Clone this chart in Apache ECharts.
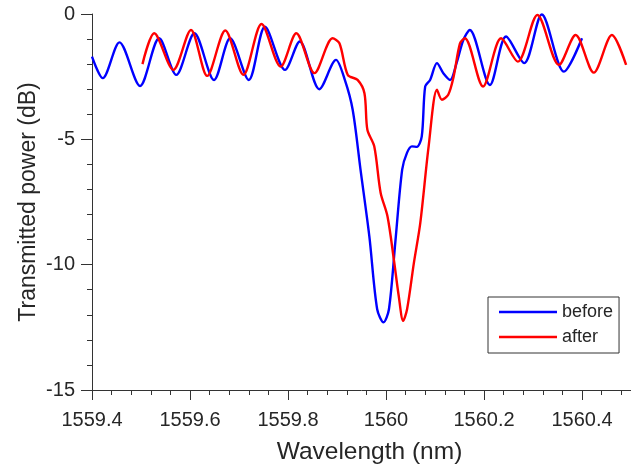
<!DOCTYPE html>
<html>
<head>
<meta charset="utf-8">
<script src="https://cdn.jsdelivr.net/npm/echarts@6/dist/echarts.min.js"></script>
<style>
html,body{margin:0;padding:0;background:#fff;}
#chart{width:631px;height:470px;}
</style>
</head>
<body>
<div id="chart"></div>
<script>
// Wavelength (nm) and transmitted power (dB)
var beforeX = [1559.400,1559.422,1559.456,1559.498,1559.537,1559.572,1559.609,1559.649,1559.682,1559.720,1559.753,1559.794,1559.824,1559.864,1559.898,1559.916,1559.932,1559.948,1559.966,1559.982,1559.995,1560.006,1560.019,1560.033,1560.043,1560.053,1560.063,1560.073,1560.080,1560.090,1560.104,1560.117,1560.131,1560.144,1560.158,1560.171,1560.212,1560.245,1560.282,1560.318,1560.363,1560.400];
var beforeY = [-1.70,-2.56,-1.13,-2.87,-0.97,-2.43,-0.77,-2.63,-0.97,-2.63,-0.51,-2.23,-1.10,-3.00,-1.83,-2.63,-3.82,-6.21,-8.87,-11.78,-12.30,-11.78,-9.11,-6.21,-5.53,-5.28,-5.30,-4.88,-2.89,-2.63,-1.96,-2.36,-2.63,-1.96,-1.03,-0.64,-2.83,-0.90,-1.96,-0.02,-2.30,-0.97];
var afterX = [1559.503,1559.527,1559.566,1559.602,1559.635,1559.672,1559.709,1559.746,1559.785,1559.817,1559.854,1559.891,1559.905,1559.922,1559.942,1559.956,1559.962,1559.976,1559.989,1560.003,1560.016,1560.026,1560.035,1560.043,1560.057,1560.070,1560.087,1560.104,1560.114,1560.127,1560.138,1560.151,1560.161,1560.198,1560.235,1560.269,1560.309,1560.353,1560.387,1560.424,1560.461,1560.490];
var afterY = [-2.00,-0.77,-2.23,-0.64,-2.47,-0.66,-2.43,-0.40,-2.10,-0.77,-2.36,-0.97,-1.17,-2.43,-2.63,-3.16,-4.62,-5.28,-7.13,-8.07,-9.79,-11.25,-12.24,-11.78,-9.92,-8.33,-5.28,-3.02,-3.42,-3.22,-2.50,-1.17,-0.97,-2.89,-0.97,-1.90,-0.04,-2.03,-0.84,-2.34,-0.84,-2.03];
var seriesNames = ['before', 'after'];
var seriesColors = ['#0000ff', '#ff0000'];
var xTitle = 'Wavelength (nm)';
var yTitle = 'Transmitted power (dB)';

function pairs(xs, ys) { return xs.map(function (x, i) { return [x, ys[i]]; }); }

var FONT = 'Liberation Sans, Arial, sans-serif';
var TXT = '#262626';
var AX = '#333333';

var chart = echarts.init(document.getElementById('chart'), null, {renderer: 'canvas'});
chart.setOption({
  animation: false,
  backgroundColor: '#ffffff',
  grid: {left: 92, top: 14, right: -5, bottom: 79, containLabel: false},
  legend: {
    orient: 'vertical',
    left: 488, top: 297,
    data: seriesNames,
    icon: 'rect',
    itemWidth: 58, itemHeight: 2.5,
    itemGap: 7,
    padding: [6, 6, 7, 11],
    borderColor: '#333333', borderWidth: 1,
    backgroundColor: '#ffffff',
    textStyle: {fontFamily: FONT, fontSize: 18, color: TXT}
  },
  xAxis: {
    type: 'value', min: 1559.4, max: 1560.5, interval: 0.2,
    name: xTitle, nameLocation: 'middle', nameGap: 50, nameMoveOverlap: false,
    nameTextStyle: {fontFamily: FONT, fontSize: 24.5, color: TXT, padding: [0, 0, 0, 16]},
    axisLine: {show: true, onZero: false, lineStyle: {color: AX, width: 1}},
    axisTick: {show: true, inside: false, length: 10, lineStyle: {color: AX}},
    minorTick: {show: true, splitNumber: 5, length: 5, lineStyle: {color: AX}},
    splitLine: {show: false},
    axisLabel: {fontFamily: FONT, fontSize: 20, color: TXT, margin: 20, showMaxLabel: false,
      formatter: function (v) { return String(parseFloat(v.toFixed(1))); }}
  },
  yAxis: {
    type: 'value', min: -15, max: 0, interval: 5,
    name: yTitle, nameLocation: 'middle', nameGap: 52, nameMoveOverlap: false,
    nameTextStyle: {fontFamily: FONT, fontSize: 23, color: TXT},
    axisLine: {show: true, onZero: false, lineStyle: {color: AX, width: 1}},
    axisTick: {show: true, inside: false, length: 11, lineStyle: {color: AX}},
    minorTick: {show: true, splitNumber: 5, length: 5, lineStyle: {color: AX}},
    splitLine: {show: false},
    axisLabel: {fontFamily: FONT, fontSize: 20, color: TXT, margin: 17}
  },
  series: [
    {name: seriesNames[0], type: 'line', data: pairs(beforeX, beforeY), showSymbol: false,
     smooth: 0.3, clip: true,
     lineStyle: {color: seriesColors[0], width: 2.4}, itemStyle: {color: seriesColors[0]}},
    {name: seriesNames[1], type: 'line', data: pairs(afterX, afterY), showSymbol: false,
     smooth: 0.3, clip: true,
     lineStyle: {color: seriesColors[1], width: 2.4}, itemStyle: {color: seriesColors[1]}}
  ]
});
</script>
</body>
</html>
